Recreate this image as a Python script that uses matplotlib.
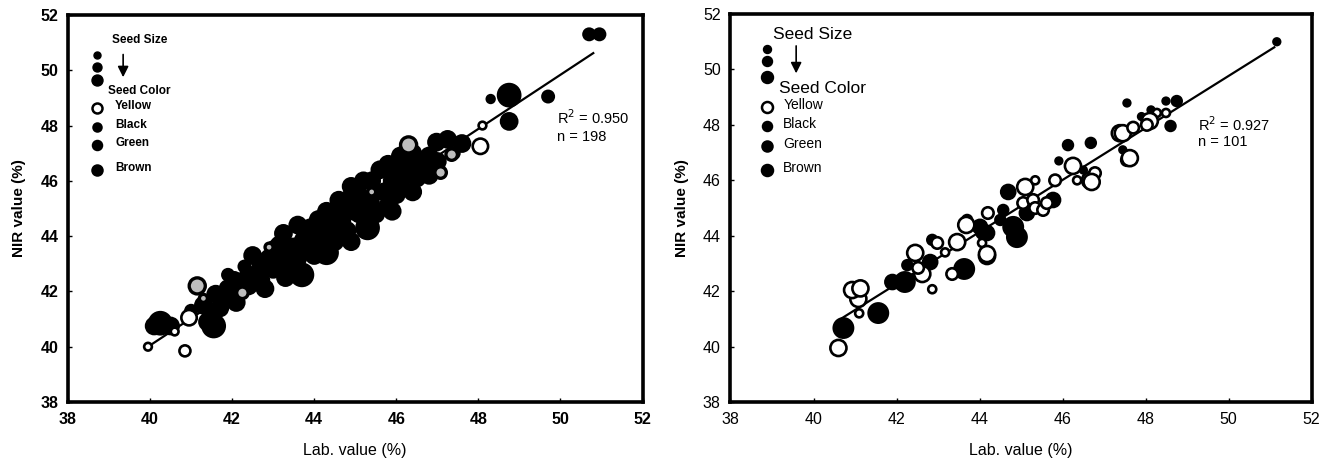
import matplotlib

matplotlib.use("Agg")
import matplotlib.pyplot as plt
import numpy as np


# ---- left panel (n = 198), size class 1..4 ----
LEFT_DARK_X = [40.25, 40.1, 40.5, 41.55, 41.5, 41.3, 41.7, 41.0, 41.6, 41.9, 41.8, 42.05, 42.2, 42.0,
               42.4, 42.6, 42.4, 42.7, 42.9, 42.7, 43.0, 43.2, 43.25, 43.5, 43.4, 43.7, 43.6, 43.8,
               43.9, 44.1, 44.0, 44.2, 44.4, 44.3, 44.6, 44.7, 44.5, 44.8, 45.0, 44.9, 45.1, 45.3,
               45.5, 45.4, 45.7, 45.8, 45.9, 46.0, 46.2, 46.3, 46.5, 46.6, 46.1, 45.6, 43.0, 42.3,
               46.98, 47.25, 47.6, 47.0, 46.8, 47.4, 48.3, 48.75, 48.75, 49.7, 50.7, 50.95,
               41.4, 42.1, 42.8, 43.3, 44.3, 44.9, 45.3, 45.9, 46.4, 46.8, 42.5, 43.6, 44.6,
               45.2, 45.8, 46.4, 41.9, 44.0, 45.0, 43.0, 46.0]
LEFT_DARK_Y = [40.85, 40.75, 40.75, 40.75, 41.2, 41.5, 41.4, 41.3, 41.9, 42.1, 41.7, 42.4, 42.3, 41.9,
               42.6, 42.6, 42.2, 43.0, 43.2, 42.4, 42.8, 43.6, 44.1, 43.5, 43.0, 42.6, 43.2, 43.8,
               44.3, 44.6, 43.3, 43.9, 44.2, 44.9, 44.5, 45.1, 43.8, 44.2, 45.5, 45.8, 44.8, 45.2,
               44.8, 46.0, 45.6, 45.1, 46.0, 45.5, 46.3, 46.8, 46.1, 46.5, 46.9, 46.4, 43.6, 42.9,
               47.4, 47.5, 47.35, 46.7, 46.9, 47.0, 48.96, 49.1, 48.15, 49.05, 51.3, 51.3,
               40.9, 41.6, 42.1, 42.5, 43.4, 43.8, 44.3, 44.9, 45.6, 46.2, 43.3, 44.4, 45.3,
               46.0, 46.6, 47.0, 42.6, 44.0, 45.0, 43.0, 46.0]
LEFT_DARK_S = [4, 3, 3, 4, 3, 3, 3, 2, 3, 3, 3, 3, 3, 2,
               3, 3, 3, 3, 3, 3, 3, 4, 3, 4, 3, 4, 3, 4,
               3, 3, 3, 4, 3, 3, 4, 3, 3, 3, 4, 3, 3, 4,
               3, 3, 3, 3, 3, 3, 4, 3, 3, 3, 3, 3, 2, 2,
               3, 3, 3, 3, 3, 2, 1, 4, 3, 2, 2, 2,
               3, 3, 3, 3, 4, 3, 4, 3, 3, 3, 3, 3, 3,
               3, 3, 3, 2, 4, 4, 4, 4]

LEFT_YELLOW_X = [39.95, 40.85, 40.6, 40.95, 48.05, 48.1]
LEFT_YELLOW_Y = [40.0, 39.85, 40.55, 41.05, 47.25, 48.0]
LEFT_YELLOW_S = [1, 2, 1, 3, 3, 1]

LEFT_SHADED_X = [41.15, 41.3, 42.25, 42.9, 46.3, 47.35, 47.08, 45.4]
LEFT_SHADED_Y = [42.2, 41.75, 41.95, 43.6, 47.3, 46.95, 46.3, 45.6]
LEFT_SHADED_S = [3, 1, 2, 1, 3, 2, 2, 1]

LEFT_FIT_X = [39.95, 50.8]
LEFT_FIT_Y = [40.0, 50.62]

# ---- right panel (n = 101) ----
RIGHT_DARK_X = [40.72, 41.56, 41.9, 42.2, 42.26, 42.81, 42.86, 43.63, 43.7, 44.09, 44.01, 44.18,
                44.57, 44.5, 44.81, 44.9, 44.69, 45.14, 45.77, 45.91, 46.13, 46.68, 46.5, 47.55,
                48.49, 48.75, 48.13, 47.9, 48.6, 47.45, 51.16]
RIGHT_DARK_Y = [40.67, 41.21, 42.33, 42.33, 42.94, 43.05, 43.85, 42.8, 44.57, 44.13, 44.32, 44.1,
                44.93, 44.57, 44.32, 43.95, 45.58, 44.82, 45.29, 46.7, 47.27, 47.35, 46.37, 48.79,
                48.86, 48.86, 48.54, 48.3, 47.96, 47.1, 51.0]
RIGHT_DARK_S = [4, 4, 3, 4, 2, 3, 2, 4, 2, 3, 3, 3,
                2, 2, 4, 4, 3, 3, 3, 1, 2, 2, 1, 1,
                1, 2, 1, 1, 2, 1, 1]

RIGHT_YELLOW_X = [40.6, 41.08, 40.93, 41.13, 41.1, 42.62, 42.52, 42.45, 42.86, 42.98, 43.17, 43.46,
                  43.34, 43.68, 44.18, 44.2, 44.06, 44.18, 45.1, 45.05, 45.29, 45.34, 45.34, 45.53,
                  45.82, 45.62, 46.25, 46.35, 46.66, 46.78, 47.38, 47.55, 48.27, 48.49, 48.1, 48.03,
                  47.45, 47.7, 47.62, 46.7]
RIGHT_YELLOW_Y = [39.95, 41.72, 42.04, 42.1, 41.2, 42.62, 42.84, 43.38, 42.07, 43.74, 43.4, 43.77,
                  42.62, 44.39, 43.27, 44.82, 43.74, 43.34, 45.76, 45.18, 45.29, 46.0, 45.0, 44.93,
                  46.0, 45.18, 46.52, 46.0, 46.0, 46.26, 47.7, 46.73, 48.43, 48.43, 48.14, 48.0,
                  47.7, 47.9, 46.8, 45.94]
RIGHT_YELLOW_S = [3, 3, 3, 3, 1, 3, 2, 3, 1, 2, 1, 3,
                  2, 3, 3, 2, 1, 3, 3, 2, 2, 1, 2, 2,
                  2, 2, 3, 1, 3, 2, 3, 2, 1, 1, 3, 2,
                  3, 2, 3, 3]

RIGHT_FIT_X = [40.69, 51.1]
RIGHT_FIT_Y = [41.03, 50.8]

COLOR_LABELS = ["Yellow", "Black", "Green", "Brown"]
STATS = [("0.950", "198"), ("0.927", "101")]

DIAM_PX = {1: 7, 2: 10, 3: 14, 4: 19}


def setup_style() -> None:
    plt.rcParams.update(
        {
            "font.family": ["Liberation Sans", "DejaVu Sans"],
            "font.size": 10,
            "axes.linewidth": 2.6,
            "xtick.direction": "in",
            "ytick.direction": "in",
            "xtick.major.size": 3,
            "ytick.major.size": 3,
            "xtick.major.width": 1.0,
            "ytick.major.width": 1.0,
        }
    )


def msize(classes, scale=1.0):
    return [(DIAM_PX[c] * 0.72 * scale) ** 2 for c in classes]


def draw_points(ax, xs, ys, sizes, face, scale=1.0, lw=1.4):
    ax.scatter(xs, ys, s=msize(sizes, scale), facecolors=face, edgecolors="black",
               linewidths=lw, zorder=3)


def style_axes(ax, bold):
    w = "bold" if bold else "normal"
    ax.set_xlim(38, 52)
    ax.set_ylim(38, 52)
    ax.set_xticks(np.arange(38, 53, 2))
    ax.set_yticks(np.arange(38, 53, 2))
    ax.tick_params(labelsize=11.5, pad=7)
    for lab in ax.get_xticklabels() + ax.get_yticklabels():
        lab.set_fontweight(w)
    ax.set_xlabel("Lab. value (%)", fontsize=11.5, labelpad=12)
    ax.set_ylabel("NIR value (%)", fontsize=11, fontweight="bold", labelpad=10)


def draw_legend(ax, cfg):
    t = ax.transAxes
    mx = cfg["mx"]
    fw = cfg["weight"]
    ax.text(cfg["size_xy"][0], cfg["size_xy"][1], "Seed Size", transform=t, ha="center",
            va="center", fontsize=cfg["head_fs"], fontweight=fw)
    for y, d in zip(cfg["size_y"], cfg["size_d"]):
        ax.scatter([mx], [y], s=(d * 0.72) ** 2, color="black", transform=t, zorder=4,
                   clip_on=False)
    ax.annotate("", xy=(cfg["arrow_x"], cfg["arrow_y"][1]), xytext=(cfg["arrow_x"], cfg["arrow_y"][0]),
                xycoords=t, textcoords=t,
                arrowprops=dict(arrowstyle="-|>", color="black", lw=1.2, mutation_scale=16))
    ax.text(cfg["color_xy"][0], cfg["color_xy"][1], "Seed Color", transform=t, ha="center",
            va="center", fontsize=cfg["head_fs"], fontweight=fw)
    for lab, y, d in zip(COLOR_LABELS, cfg["color_y"], cfg["color_d"]):
        face = "white" if lab == "Yellow" else "black"
        ax.scatter([mx], [y], s=(d * 0.72) ** 2, facecolors=face, edgecolors="black",
                   linewidths=1.8, transform=t, zorder=4)
        ax.text(cfg["lab_x"], y + 0.005, lab, transform=t, ha="left", va="center",
                fontsize=cfg["item_fs"], fontweight=fw)


def main() -> None:
    setup_style()
    fig = plt.figure(figsize=(13.33, 4.68), dpi=100)
    ax1 = fig.add_axes([0.051, 0.141, 0.431, 0.827])
    ax2 = fig.add_axes([0.548, 0.141, 0.436, 0.829])

    # left panel
    ax1.plot(LEFT_FIT_X, LEFT_FIT_Y, color="black", lw=1.6, zorder=2)
    draw_points(ax1, LEFT_DARK_X, LEFT_DARK_Y, LEFT_DARK_S, "black", scale=1.2)
    draw_points(ax1, LEFT_YELLOW_X, LEFT_YELLOW_Y, LEFT_YELLOW_S, "white", scale=1.1, lw=1.9)
    draw_points(ax1, LEFT_SHADED_X, LEFT_SHADED_Y, LEFT_SHADED_S, "#bdbdbd", scale=1.15, lw=2.4)
    style_axes(ax1, bold=True)
    draw_legend(ax1, dict(mx=0.050, weight="bold", head_fs=8.5, item_fs=8.5,
                          size_xy=(0.125, 0.935), size_y=[0.897, 0.866, 0.832], size_d=[7, 9, 11],
                          arrow_x=0.096, arrow_y=(0.905, 0.832),
                          color_xy=(0.124, 0.804), color_y=[0.760, 0.711, 0.664, 0.600],
                          color_d=[10, 8, 9, 10], lab_x=0.082))
    r2, n = STATS[0]
    ax1.text(0.852, 0.736, rf"R$^2$ = {r2}", transform=ax1.transAxes, fontsize=10.5, va="center")
    ax1.text(0.852, 0.685, f"n = {n}", transform=ax1.transAxes, fontsize=10.5, va="center")

    # right panel
    ax2.plot(RIGHT_FIT_X, RIGHT_FIT_Y, color="black", lw=1.6, zorder=2)
    draw_points(ax2, RIGHT_DARK_X, RIGHT_DARK_Y, RIGHT_DARK_S, "black", scale=1.05)
    draw_points(ax2, RIGHT_YELLOW_X, RIGHT_YELLOW_Y, RIGHT_YELLOW_S, "white", scale=1.15, lw=1.9)
    style_axes(ax2, bold=False)
    draw_legend(ax2, dict(mx=0.062, weight="normal", head_fs=12.5, item_fs=10,
                          size_xy=(0.141, 0.946), size_y=[0.910, 0.879, 0.838], size_d=[8, 10, 12],
                          arrow_x=0.113, arrow_y=(0.925, 0.840),
                          color_xy=(0.158, 0.807), color_y=[0.760, 0.711, 0.660, 0.598],
                          color_d=[11, 9, 10, 11], lab_x=0.091))
    r2, n = STATS[1]
    ax2.text(0.804, 0.714, rf"R$^2$ = {r2}", transform=ax2.transAxes, fontsize=10.5, va="center")
    ax2.text(0.804, 0.670, f"n = {n}", transform=ax2.transAxes, fontsize=10.5, va="center")

    fig.savefig("out.png", dpi=100)
    plt.close(fig)


if __name__ == "__main__":
    main()
